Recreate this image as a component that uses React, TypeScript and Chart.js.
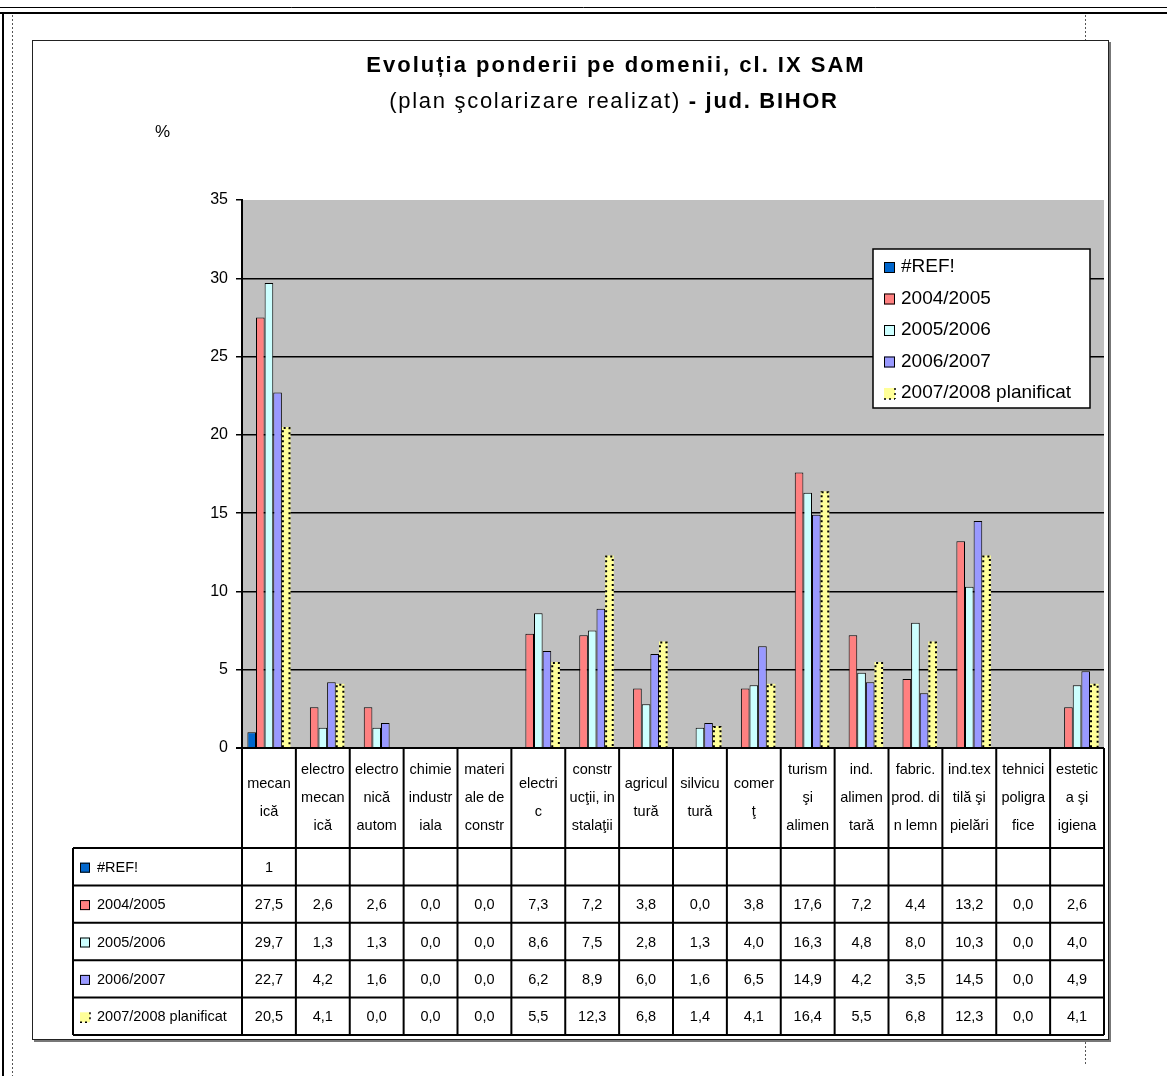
import React, { useEffect, useRef } from 'react';
import { Chart, registerables } from 'chart.js';

Chart.register(...registerables);

const categories = [
  'mecanică', 'electromecanică', 'electronică automatizări', 'chimie industriala', 'materiale de construcţii',
  'electric', 'construcţii, instalaţii', 'agricultură', 'silvicultură', 'comerţ', 'turism şi alimentaţie',
  'ind. alimentară', 'fabric. prod. din lemn', 'ind. textilă şi pielărie', 'tehnici poligrafice', 'estetica şi igiena',
];
const categoryLines = [
  ['mecan', 'ică'], ['electro', 'mecan', 'ică'], ['electro', 'nică', 'autom'], ['chimie', 'industr', 'iala'],
  ['materi', 'ale de', 'constr'], ['electri', 'c'], ['constr', 'ucţii, in', 'stalaţii'], ['agricul', 'tură'],
  ['silvicu', 'tură'], ['comer', 'ţ'], ['turism', 'şi', 'alimen'], ['ind.', 'alimen', 'tară'],
  ['fabric.', 'prod. di', 'n lemn'], ['ind.tex', 'tilă şi', 'pielări'], ['tehnici', 'poligra', 'fice'], ['estetic', 'a şi', 'igiena'],
];
const seriesNames = ['#REF!', '2004/2005', '2005/2006', '2006/2007', '2007/2008 planificat'];
const refValues = [1, null, null, null, null, null, null, null, null, null, null, null, null, null, null, null];
const values2004 = [27.5, 2.6, 2.6, 0.0, 0.0, 7.3, 7.2, 3.8, 0.0, 3.8, 17.6, 7.2, 4.4, 13.2, 0.0, 2.6];
const values2005 = [29.7, 1.3, 1.3, 0.0, 0.0, 8.6, 7.5, 2.8, 1.3, 4.0, 16.3, 4.8, 8.0, 10.3, 0.0, 4.0];
const values2006 = [22.7, 4.2, 1.6, 0.0, 0.0, 6.2, 8.9, 6.0, 1.6, 6.5, 14.9, 4.2, 3.5, 14.5, 0.0, 4.9];
const values2007 = [20.5, 4.1, 0.0, 0.0, 0.0, 5.5, 12.3, 6.8, 1.4, 4.1, 16.4, 5.5, 6.8, 12.3, 0.0, 4.1];
const yTicks = [0, 5, 10, 15, 20, 25, 30, 35];
const seriesColors = ['#0066CC', '#FF8080', '#CCFFFF', '#9999FF', '#FFFF99'];

const FONT = '"Liberation Sans", Arial, sans-serif';

function fmt(v: number | null, isRef: boolean) {
  if (v === null || v === undefined) return '';
  if (isRef) return String(v);
  return v.toFixed(1).replace('.', ',');
}

function drawMarker(ctx: CanvasRenderingContext2D, x: number, y: number, s: number, i: number) {
  ctx.save();
  ctx.fillStyle = seriesColors[i];
  ctx.fillRect(x, y, s, s);
  if (i === 4) {
    ctx.strokeStyle = '#000';
    ctx.lineWidth = 1.5;
    ctx.setLineDash([2, 3]);
    ctx.beginPath();
    ctx.moveTo(x, y + s);
    ctx.lineTo(x + s, y + s);
    ctx.moveTo(x + s, y);
    ctx.lineTo(x + s, y + s);
    ctx.stroke();
  } else {
    ctx.strokeStyle = '#000';
    ctx.lineWidth = 1;
    ctx.strokeRect(x + 0.5, y + 0.5, s - 1, s - 1);
  }
  ctx.restore();
}

const framePlugin = {
  id: 'frame',
  beforeDraw(chart: any) {
    const ctx: CanvasRenderingContext2D = chart.ctx;
    const W = chart.width, H = chart.height;
    const ca = chart.chartArea;
    ctx.save();
    ctx.fillStyle = '#fff';
    ctx.fillRect(0, 0, W, H);
    // page lines
    ctx.strokeStyle = '#000';
    ctx.lineWidth = 1;
    ctx.beginPath(); ctx.moveTo(0, 7.5); ctx.lineTo(W, 7.5); ctx.stroke();
    ctx.lineWidth = 2;
    ctx.beginPath(); ctx.moveTo(0, 13); ctx.lineTo(W, 13); ctx.stroke();
    ctx.beginPath(); ctx.moveTo(3, 13); ctx.lineTo(3, H); ctx.stroke();
    ctx.lineWidth = 1;
    ctx.strokeStyle = '#555';
    ctx.setLineDash([2, 2]);
    ctx.beginPath(); ctx.moveTo(12.5, 15); ctx.lineTo(12.5, H); ctx.stroke();
    ctx.beginPath(); ctx.moveTo(1085.5, 15); ctx.lineTo(1085.5, 40); ctx.stroke();
    ctx.beginPath(); ctx.moveTo(1085.5, 1042); ctx.lineTo(1085.5, 1066); ctx.stroke();
    ctx.setLineDash([]);
    // chart box
    ctx.fillStyle = '#fff';
    ctx.fillRect(32, 40, 1077, 1000);
    ctx.fillStyle = '#777';
    ctx.fillRect(1109, 42, 2, 1000);
    ctx.fillRect(34, 1040, 1077, 2);
    ctx.strokeStyle = '#222';
    ctx.lineWidth = 1;
    ctx.strokeRect(32.5, 40.5, 1076, 999);
    // plot background
    ctx.fillStyle = '#C0C0C0';
    ctx.fillRect(ca.left, ca.top, ca.right - ca.left, ca.bottom - ca.top);
    // title
    ctx.fillStyle = '#000';
    ctx.textBaseline = 'middle';
    ctx.textAlign = 'left';
    (ctx as any).letterSpacing = '2px';
    const t1 = 'Evoluția ponderii pe domenii, cl. IX SAM';
    ctx.font = `bold 22px ${FONT}`;
    const tw = ctx.measureText(t1).width;
    ctx.fillText(t1, 616 - tw / 2, 66);
    (ctx as any).letterSpacing = '1.7px';
    const p1 = '(plan şcolarizare realizat) ';
    const p2 = '- jud. BIHOR';
    ctx.font = `22px ${FONT}`;
    const w1 = ctx.measureText(p1).width;
    ctx.font = `bold 22px ${FONT}`;
    const w2 = ctx.measureText(p2).width;
    const sx = 614 - (w1 + w2) / 2;
    ctx.font = `22px ${FONT}`;
    ctx.fillText(p1, sx, 102);
    ctx.font = `bold 22px ${FONT}`;
    ctx.fillText(p2, sx + w1, 102);
    (ctx as any).letterSpacing = '0px';
    ctx.font = `17px ${FONT}`;
    ctx.fillText('%', 155, 132);
    ctx.restore();
  },
};

const overlayPlugin = {
  id: 'overlay',
  afterDatasetsDraw(chart: any) {
    const ctx: CanvasRenderingContext2D = chart.ctx;
    const meta = chart.getDatasetMeta(4);
    ctx.save();
    ctx.strokeStyle = '#000';
    ctx.lineWidth = 2;
    ctx.setLineDash([2, 3]);
    meta.data.forEach((bar: any, i: number) => {
      const v = values2007[i];
      if (!v) return;
      const { x, y, base, width } = bar.getProps(['x', 'y', 'base', 'width'], true);
      const l = x - width / 2, r = x + width / 2;
      ctx.beginPath();
      ctx.moveTo(l + 1, base);
      ctx.lineTo(l + 1, y + 1);
      ctx.lineTo(r - 1, y + 1);
      ctx.lineTo(r - 1, base);
      ctx.stroke();
    });
    ctx.restore();
  },
  afterDraw(chart: any) {
    const ctx: CanvasRenderingContext2D = chart.ctx;
    const ca = chart.chartArea;
    const xs = chart.scales.x;
    const n = categories.length;
    const half = (xs.getPixelForValue(1) - xs.getPixelForValue(0)) / 2;
    const edges: number[] = [];
    for (let i = 0; i < n; i++) edges.push(xs.getPixelForValue(i) - half);
    edges.push(xs.getPixelForValue(n - 1) + half);
    const top = ca.bottom;
    const catBottom = top + 100;
    const rowH = 37.4;
    const tableLeft = 73;
    const tableBottom = catBottom + rowH * 5;

    ctx.save();
    // Legend box
    const lx = ca.right - 231, ly = ca.top + 49, lw = 217, lh = 159;
    ctx.fillStyle = '#fff';
    ctx.fillRect(lx, ly, lw, lh);
    ctx.strokeStyle = '#000';
    ctx.lineWidth = 1.5;
    ctx.strokeRect(lx, ly, lw, lh);
    ctx.font = `19px ${FONT}`;
    ctx.textBaseline = 'middle';
    ctx.textAlign = 'left';
    seriesNames.forEach((name, i) => {
      const cy = ly + 18 + i * 31.5;
      drawMarker(ctx, lx + 11, cy - 5, 11, i);
      ctx.fillStyle = '#000';
      ctx.fillText(name, lx + 28, cy);
    });

    // table background
    ctx.fillStyle = '#fff';
    ctx.fillRect(edges[0], top, edges[n] - edges[0], catBottom - top);
    ctx.fillRect(tableLeft, catBottom, edges[n] - tableLeft, tableBottom - catBottom);

    // lines
    ctx.strokeStyle = '#000';
    ctx.lineWidth = 2;
    ctx.beginPath();
    ctx.moveTo(edges[0] - 6, top); ctx.lineTo(edges[n], top);
    for (let r = 0; r <= 5; r++) {
      const y = catBottom + r * rowH;
      ctx.moveTo(tableLeft, y); ctx.lineTo(edges[n], y);
    }
    ctx.moveTo(tableLeft, catBottom); ctx.lineTo(tableLeft, tableBottom);
    edges.forEach((e) => { ctx.moveTo(e, top); ctx.lineTo(e, tableBottom); });
    ctx.stroke();

    // category labels
    ctx.fillStyle = '#000';
    ctx.textAlign = 'center';
    ctx.textBaseline = 'middle';
    ctx.font = `14.5px ${FONT}`;
    const cMid = (top + catBottom) / 2;
    categoryLines.forEach((lines, i) => {
      const cx = xs.getPixelForValue(i);
      lines.forEach((t, j) => {
        ctx.fillText(t, cx, cMid + (j - (lines.length - 1) / 2) * 28);
      });
    });

    // rows
    const rows = [refValues, values2004, values2005, values2006, values2007];
    ctx.font = `14.5px ${FONT}`;
    rows.forEach((vals, r) => {
      const cy = catBottom + r * rowH + rowH / 2 + 1;
      drawMarker(ctx, 80, cy - 5, 10, r);
      ctx.fillStyle = '#000';
      ctx.textAlign = 'left';
      ctx.fillText(seriesNames[r], 97, cy);
      ctx.textAlign = 'center';
      vals.forEach((v, i) => {
        ctx.fillText(fmt(v as any, r === 0), xs.getPixelForValue(i), cy);
      });
    });
    ctx.restore();
  },
};

export default function App() {
  const ref = useRef<HTMLCanvasElement>(null);
  useEffect(() => {
    const allSeries = [refValues, values2004, values2005, values2006, values2007];
    const chart = new Chart(ref.current as HTMLCanvasElement, {
      type: 'bar',
      data: {
        labels: categories,
        datasets: allSeries.map((vals, i) => ({
          label: seriesNames[i],
          data: vals as any,
          backgroundColor: seriesColors[i],
          borderColor: '#000',
          borderWidth: i === 4 ? 0 : 1,
          categoryPercentage: 0.8,
          barPercentage: 1.0,
        })),
      },
      options: {
        responsive: false,
        animation: false,
        devicePixelRatio: 1,
        layout: { padding: { left: 0, top: 200, right: 63, bottom: 328 } },
        plugins: {
          legend: { display: false },
          title: { display: false },
          tooltip: { enabled: false },
        },
        scales: {
          x: { display: false, offset: true },
          y: {
            min: 0,
            max: 35,
            afterFit: (s: any) => { s.width = 242; },
            afterBuildTicks: (s: any) => { s.ticks = yTicks.map((v) => ({ value: v })); },
            ticks: { stepSize: 5, color: '#000', padding: 8, font: { family: FONT, size: 16 } },
            grid: {
              color: (c: any) => (c.tick && c.tick.value === 35 ? 'rgba(0,0,0,0)' : '#000'),
              tickColor: '#000',
              lineWidth: 1.5,
              tickLength: 6,
              drawTicks: true,
            },
            border: { display: true, color: '#000', width: 2 },
          },
        },
      },
      plugins: [framePlugin, overlayPlugin],
    });
    return () => chart.destroy();
  }, []);
  return (
    <div style={{ position: 'absolute', left: 0, top: 0, width: 1167, height: 1076 }}>
      <canvas ref={ref} width={1167} height={1076} style={{ display: 'block' }} />
    </div>
  );
}
